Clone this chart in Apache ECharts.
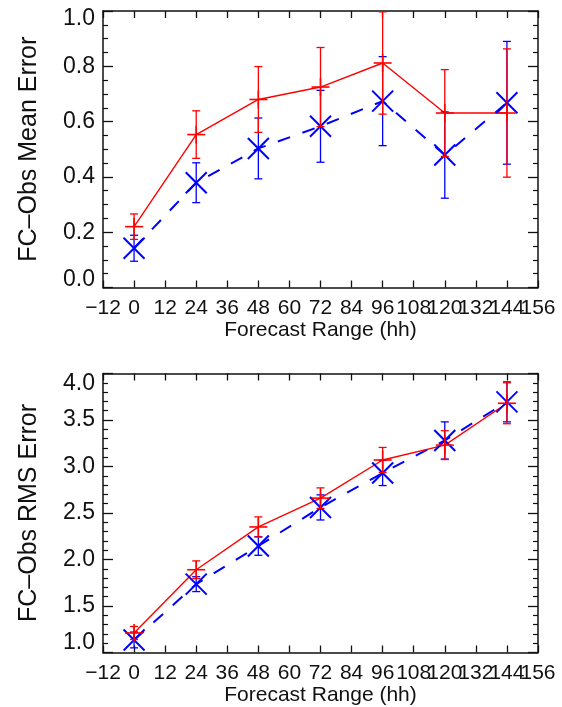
<!DOCTYPE html>
<html><head><meta charset="utf-8">
<script src="https://cdn.jsdelivr.net/npm/echarts@6/dist/echarts.min.js"></script>
<style>html,body{margin:0;padding:0;background:#fff}#c{width:562px;height:707px}</style>
</head><body><div id="c"></div>
<script>
// Forecast range (hours)
const hours = [0, 24, 48, 72, 96, 120, 144];
// Top panel: FC-Obs Mean Error
const meanRed     = [0.220, 0.553, 0.680, 0.725, 0.812, 0.631, 0.631];
const meanRedErr  = [0.046, 0.086, 0.119, 0.143, 0.185, 0.157, 0.232];
const meanBlue    = [0.142, 0.379, 0.503, 0.583, 0.674, 0.479, 0.668];
const meanBlueErr = [0.047, 0.072, 0.110, 0.130, 0.161, 0.156, 0.222];
// Bottom panel: FC-Obs RMS Error
const rmsRed      = [1.210, 1.890, 2.350, 2.660, 3.070, 3.230, 3.680];
const rmsRedErr   = [0.070, 0.095, 0.108, 0.110, 0.135, 0.155, 0.220];
const rmsBlue     = [1.135, 1.735, 2.145, 2.560, 2.930, 3.280, 3.695];
const rmsBlueErr  = [0.085, 0.080, 0.100, 0.135, 0.135, 0.200, 0.215];

const FONT = '"Liberation Sans", Arial, Helvetica, sans-serif';
const AX = '#111';

function errSeries(xi, yi, vals, errs, color, marker) {
  const data = hours.map((h, i) => [h, vals[i], vals[i] - errs[i], vals[i] + errs[i]]);
  return {
    type: 'custom', xAxisIndex: xi, yAxisIndex: yi, data, z: 4, silent: true,
    renderItem(params, api) {
      const x = api.value(0), y = api.value(1), lo = api.value(2), hi = api.value(3);
      const p = api.coord([x, y]), a = api.coord([x, lo]), b = api.coord([x, hi]);
      const cap = 4;
      const st = { stroke: color, lineWidth: 1.3, fill: null };
      const ms = { stroke: color, lineWidth: marker === 'plus' ? 1.6 : 2, fill: null };
      const ch = [
        { type: 'line', shape: { x1: a[0], y1: a[1], x2: b[0], y2: b[1] }, style: st },
        { type: 'line', shape: { x1: a[0] - cap, y1: a[1], x2: a[0] + cap, y2: a[1] }, style: st },
        { type: 'line', shape: { x1: b[0] - cap, y1: b[1], x2: b[0] + cap, y2: b[1] }, style: st }
      ];
      if (marker === 'plus') {
        const s = 9;
        ch.push({ type: 'line', shape: { x1: p[0] - s, y1: p[1], x2: p[0] + s, y2: p[1] }, style: ms });
        ch.push({ type: 'line', shape: { x1: p[0], y1: p[1] - s, x2: p[0], y2: p[1] + s }, style: ms });
      } else {
        const s = 10.5;
        ch.push({ type: 'line', shape: { x1: p[0] - s, y1: p[1] - s, x2: p[0] + s, y2: p[1] + s }, style: ms });
        ch.push({ type: 'line', shape: { x1: p[0] - s, y1: p[1] + s, x2: p[0] + s, y2: p[1] - s }, style: ms });
      }
      return { type: 'group', children: ch };
    }
  };
}

function lineSeries(xi, yi, vals, color, dashed) {
  return {
    type: 'line', xAxisIndex: xi, yAxisIndex: yi, z: 3, silent: true,
    data: hours.map((h, i) => [h, vals[i]]),
    showSymbol: false, symbol: 'none',
    lineStyle: { color, width: dashed ? 2 : 1.4, type: dashed ? [13, 13] : 'solid' }
  };
}

const labelFmt = (odd) => (v) => {
  const k = Math.round(v / 12);
  const isOdd = Math.abs(k % 2) === 1;
  return isOdd === odd ? String(v).replace('-', '\u2212') : '';
};

// main x axis (line, ticks, labels at -12, 12, 36, ..., 156, and the name)
function xAxMain(gi, gap) {
  return {
    type: 'value', gridIndex: gi, position: 'bottom', min: -12, max: 156, interval: 12,
    axisLine: { onZero: false, lineStyle: { color: AX, width: 1.5 } },
    axisTick: { inside: true, length: 7, lineStyle: { color: AX, width: 1.3 } },
    splitLine: { show: false },
    axisLabel: { show: true, margin: 10, fontFamily: FONT, fontSize: 21, color: '#111',
      showMinLabel: true, showMaxLabel: true, hideOverlap: false, formatter: labelFmt(true) },
    name: 'Forecast Range (hh)', nameLocation: 'middle', nameGap: gap,
    nameTextStyle: { fontFamily: FONT, fontSize: 21, color: '#111' }
  };
}
// companion x axis at the same place carrying labels 0, 24, ..., 144
function xAxLabels(gi) {
  return {
    type: 'value', gridIndex: gi, position: 'bottom', offset: 0, min: -12, max: 156, interval: 12,
    axisLine: { show: false, onZero: false }, axisTick: { show: false }, splitLine: { show: false },
    axisLabel: { show: true, margin: 10, fontFamily: FONT, fontSize: 21, color: '#111',
      showMinLabel: true, showMaxLabel: true, hideOverlap: false, formatter: labelFmt(false) }
  };
}
function xAxTop(gi) {
  return {
    type: 'value', gridIndex: gi, position: 'top', min: -12, max: 156, interval: 12,
    axisLine: { onZero: false, lineStyle: { color: AX, width: 1.5 } },
    axisTick: { inside: true, length: 7, lineStyle: { color: AX, width: 1.3 } },
    splitLine: { show: false }, axisLabel: { show: false }
  };
}

function yAx(gi, pos, show, min, max, interval, minorSplit, name, lh) {
  return {
    type: 'value', gridIndex: gi, position: pos, min, max, interval,
    axisLine: { onZero: false, lineStyle: { color: AX, width: 1.5 } },
    axisTick: { inside: true, length: 10, lineStyle: { color: AX, width: 1.3 } },
    minorTick: { show: true, splitNumber: minorSplit, length: 5, lineStyle: { color: AX, width: 1.2 } },
    splitLine: { show: false }, minorSplitLine: { show: false },
    axisLabel: show ? { show: true, margin: 8, fontFamily: FONT, fontSize: 23, color: '#111',
      lineHeight: lh, showMinLabel: true, showMaxLabel: true,
      verticalAlignMinLabel: 'bottom', verticalAlignMaxLabel: 'top',
      formatter: v => v.toFixed(1) } : { show: false },
    name: show ? name : '', nameLocation: 'middle', nameGap: 61, nameRotate: 90,
    nameTextStyle: { fontFamily: FONT, fontSize: 25, color: '#111' }
  };
}

const chart = echarts.init(document.getElementById('c'), null, { renderer: 'canvas' });
chart.setOption({
  animation: false,
  backgroundColor: '#fff',
  grid: [
    { left: 103, right: 24, top: 11, height: 276.5 },
    { left: 103, right: 24, top: 373.5, height: 279 }
  ],
  xAxis: [
    xAxMain(0, 29), xAxLabels(0), xAxTop(0),
    xAxMain(1, 32), xAxLabels(1), xAxTop(1)
  ],
  yAxis: [
    yAx(0, 'left', true, 0, 1, 0.2, 4, 'FC\u2013Obs Mean Error', 16), yAx(0, 'right', false, 0, 1, 0.2, 4, '', 16),
    yAx(1, 'left', true, 1, 4, 0.5, 5, 'FC\u2013Obs RMS Error', 20), yAx(1, 'right', false, 1, 4, 0.5, 5, '', 20)
  ],
  series: [
    lineSeries(0, 0, meanBlue, '#0000ff', true),
    lineSeries(0, 0, meanRed, '#ff0000', false),
    errSeries(0, 0, meanBlue, meanBlueErr, '#0000ff', 'x'),
    errSeries(0, 0, meanRed, meanRedErr, '#ff0000', 'plus'),
    lineSeries(3, 2, rmsBlue, '#0000ff', true),
    lineSeries(3, 2, rmsRed, '#ff0000', false),
    errSeries(3, 2, rmsBlue, rmsBlueErr, '#0000ff', 'x'),
    errSeries(3, 2, rmsRed, rmsRedErr, '#ff0000', 'plus')
  ]
});
</script>
</body></html>
